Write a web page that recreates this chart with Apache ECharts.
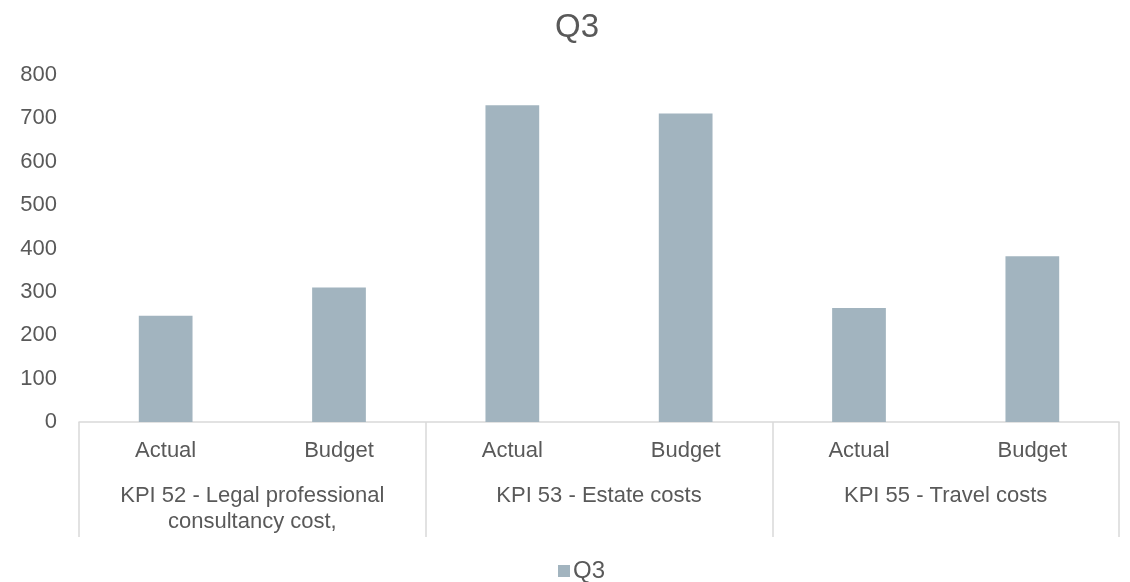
<!DOCTYPE html>
<html>
<head>
<meta charset="utf-8">
<script src="https://cdn.jsdelivr.net/npm/echarts@6/dist/echarts.min.js"></script>
<style>
  html, body { margin: 0; padding: 0; background: #ffffff; }
  #chart { width: 1130px; height: 582px; }
</style>
</head>
<body>
<div id="chart"></div>
<script>
// Inner category level (one per bar) and the outer KPI groups
const subCategories = ['Actual', 'Budget', 'Actual', 'Budget', 'Actual', 'Budget'];
const groups = [
  'KPI 52 - Legal professional\nconsultancy cost,',
  'KPI 53 - Estate costs',
  'KPI 55 - Travel costs'
];
const seriesName = 'Q3';
const q3Values = [245, 310, 730, 711, 263, 382];
const yTicks = { min: 0, max: 800, interval: 100 };

const textColor = '#595959';
const lineColor = '#d9d9d9';
const barColor = '#a2b4bf';
const fontFamily = '"Liberation Sans", Arial, sans-serif';

const chart = echarts.init(document.getElementById('chart'), null, { renderer: 'canvas' });

chart.setOption({
  animation: false,
  backgroundColor: '#ffffff',
  title: {
    text: 'Q3',
    left: 550,
    top: 6,
    textStyle: { color: textColor, fontSize: 33, fontWeight: 'normal', fontFamily }
  },
  legend: {
    data: [seriesName],
    top: 554,
    left: 553,
    icon: 'rect',
    itemWidth: 12,
    itemHeight: 12,
    itemGap: 4,
    textStyle: { color: textColor, fontSize: 24, fontFamily, padding: [0, 0, 0, -2] }
  },
  grid: { left: 79, right: 11, top: 75, bottom: 160, containLabel: false },
  xAxis: [
    {
      type: 'category',
      data: subCategories,
      position: 'bottom',
      axisLine: { show: true, lineStyle: { color: lineColor, width: 1.5 } },
      axisTick: { show: false },
      axisLabel: { color: textColor, fontSize: 22, fontFamily, margin: 18, interval: 0 }
    },
    {
      type: 'category',
      data: groups,
      position: 'bottom',
      axisLine: { show: false },
      axisTick: { show: true, alignWithLabel: false, length: 115, lineStyle: { color: lineColor, width: 1.5 } },
      axisLabel: { color: textColor, fontSize: 22, fontFamily, margin: 61, interval: 0, lineHeight: 26 }
    }
  ],
  yAxis: {
    type: 'value',
    min: yTicks.min,
    max: yTicks.max,
    interval: yTicks.interval,
    axisLine: { show: false },
    axisTick: { show: false },
    splitLine: { show: false },
    axisLabel: { color: textColor, fontSize: 22, fontFamily, margin: 22 }
  },
  series: [
    {
      name: seriesName,
      type: 'bar',
      xAxisIndex: 0,
      data: q3Values,
      barWidth: '31%',
      itemStyle: { color: barColor }
    }
  ]
});
</script>
</body>
</html>
